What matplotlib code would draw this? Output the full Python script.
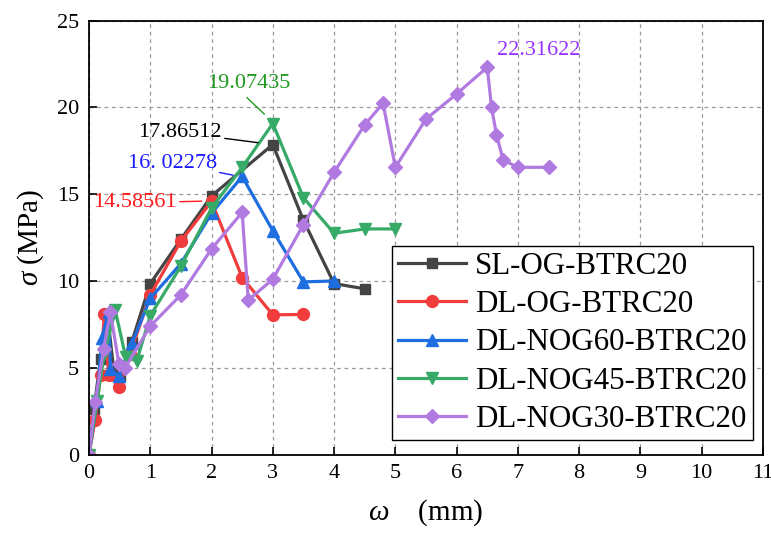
import matplotlib
matplotlib.use("Agg")
import matplotlib.pyplot as plt

plt.rcParams['font.family'] = ['Liberation Serif', 'DejaVu Serif']
plt.rcParams['mathtext.fontset'] = 'custom'
plt.rcParams['mathtext.rm'] = 'Liberation Serif'
plt.rcParams['mathtext.it'] = 'Liberation Serif:italic'

series_names = ["SL-OG-BTRC20", "DL-OG-BTRC20", "DL-NOG60-BTRC20", "DL-NOG45-BTRC20", "DL-NOG30-BTRC20"]

sl_og_x = [0, 0.08, 0.19, 0.3, 0.4, 0.5, 0.7, 1, 1.5, 2, 3, 3.5, 4, 4.5]
sl_og_y = [0, 2.6, 5.5, 8.1, 5.0, 4.5, 6.5, 9.85, 12.4, 14.9, 17.86512, 13.5, 9.85, 9.55]

dl_og_x = [0, 0.1, 0.19, 0.25, 0.32, 0.49, 0.67, 1, 1.5, 2, 2.5, 3, 3.5]
dl_og_y = [0, 2.0, 4.6, 8.1, 4.6, 3.9, 5.8, 9.2, 12.3, 14.58561, 10.2, 8.05, 8.07]

nog60_x = [0, 0.13, 0.21, 0.32, 0.35, 0.49, 0.7, 1, 1.5, 2, 2.5, 3, 3.5, 4]
nog60_y = [0, 3.1, 6.7, 8.2, 4.9, 4.5, 6.4, 9.0, 11.0, 13.9, 16.02278, 12.9, 9.95, 10.0]

nog45_x = [0, 0.13, 0.25, 0.43, 0.6, 0.78, 1, 1.5, 2, 2.5, 3, 3.5, 4, 4.5, 5]
nog45_y = [0, 3.1, 5.8, 8.3, 5.6, 5.4, 8.0, 10.85, 14.2, 16.55, 19.07435, 14.8, 12.75, 13.0, 13.0]

nog30_x = [0, 0.1, 0.24, 0.35, 0.49, 0.59, 1, 1.5, 2, 2.5, 2.6, 3, 3.5, 4, 4.5, 4.8, 5,
           5.5, 6, 6.5, 6.57, 6.65, 6.76, 7, 7.5]
nog30_y = [0, 3.0, 6.1, 8.2, 5.2, 5.0, 7.4, 9.2, 11.85, 13.95, 8.9, 10.1, 13.25, 16.26, 19.0, 20.24, 16.55,
           19.33, 20.78, 22.31622, 20.0, 18.43, 16.97, 16.55, 16.55]

x_ticks = list(range(0, 12))
y_ticks = [0, 5, 10, 15, 20, 25]

colors = ["#444444", "#f03c3c", "#1f6ee0", "#36aa66", "#b07ae0"]
markers = ["s", "o", "^", "v", "D"]
msizes = [7.5, 8.5, 8.5, 8.5, 7.5]

fig = plt.figure(figsize=(7.71, 5.36), dpi=100)
ax = fig.add_axes([0.1154, 0.152, 0.8742, 0.8094])

data = [(sl_og_x, sl_og_y), (dl_og_x, dl_og_y), (nog60_x, nog60_y), (nog45_x, nog45_y), (nog30_x, nog30_y)]
for (xs, ys), name, c, m, ms in zip(data, series_names, colors, markers, msizes):
    ax.plot(xs, ys, color=c, marker=m, markersize=ms, linewidth=2.3, label=name)

ax.set_xlim(0, 11)
ax.set_ylim(0, 25)
ax.set_xticks(x_ticks)
ax.set_yticks(y_ticks)
ax.grid(True, color="#999999", linestyle=(0, (3, 3)), linewidth=0.9)
ax.set_axisbelow(True)
ax.tick_params(direction='in', length=6, width=1.2, labelsize=16, pad=7)
for s in ax.spines.values():
    s.set_linewidth(1.3)

ax.set_xlabel(r"$\omega$    (mm)", fontsize=21, labelpad=10)
ax.set_ylabel(r"$\sigma$ (MPa)", fontsize=21, labelpad=8)

# annotations
ax.annotate("17.86512", xy=(2.76, 17.97), xytext=(2.17, 18.55), color="black", fontsize=16,
            ha="right", va="center", arrowprops=dict(arrowstyle="-", color="black", lw=1,
                                                     shrinkA=0, shrinkB=0))
ax.annotate("16. 02278", xy=(2.35, 16.1), xytext=(2.084, 16.78), color="#1a1aff", fontsize=16,
            ha="right", va="center", arrowprops=dict(arrowstyle="-", color="#1a1aff", lw=1,
                                                     shrinkA=0, shrinkB=0))
ax.annotate("14.58561", xy=(1.84, 14.6), xytext=(1.436, 14.51), color="#ff1a1a", fontsize=16,
            ha="right", va="center", arrowprops=dict(arrowstyle="-", color="#ff1a1a", lw=1,
                                                     shrinkA=0, shrinkB=0))
ax.annotate("19.07435", xy=(2.86, 19.62), xytext=(1.92, 21.4), color="#1f9a1f", fontsize=16,
            ha="left", va="center")
ax.plot([2.58, 2.86], [20.56, 19.62], color="#1f9a1f", lw=1)
ax.text(6.66, 23.31, "22.31622", color="#9933ff", fontsize=16, ha="left", va="center")

leg = ax.legend(loc="lower right", bbox_to_anchor=(0.985, 0.033), borderaxespad=0,
                fontsize=22.3, handlelength=2.2, handletextpad=0.28, labelspacing=0.3,
                borderpad=0.2, fancybox=False, framealpha=1, edgecolor="black")
leg.get_frame().set_linewidth(1.0)

fig.savefig("out.png", dpi=100)
